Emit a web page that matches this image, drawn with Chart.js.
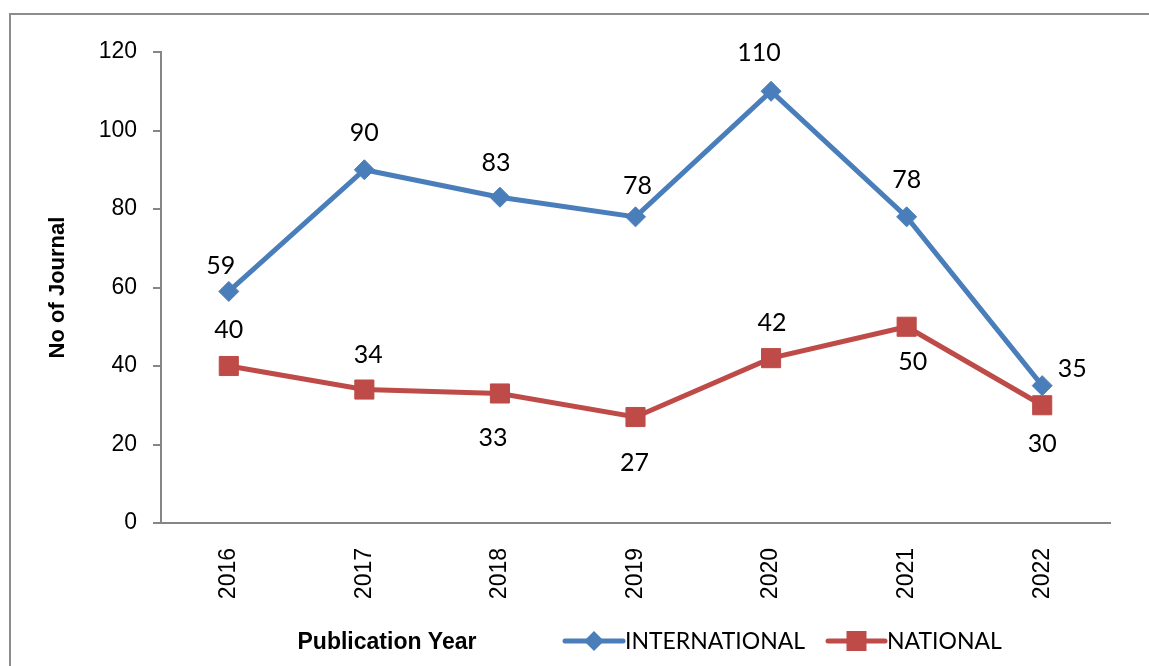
<!DOCTYPE html>
<html>
<head>
<meta charset="utf-8">
<script src="https://cdn.jsdelivr.net/npm/chart.js@4/dist/chart.umd.min.js"></script>
<style>
html,body{margin:0;padding:0;background:#fff;}
#wrap{width:1149px;height:666px;position:relative;}
</style>
</head>
<body>
<div id="wrap"><canvas id="c" width="1149" height="666"></canvas></div>
<script>
const years = ['2016','2017','2018','2019','2020','2021','2022'];
const international = [59, 90, 83, 78, 110, 78, 35];
const national = [40, 34, 33, 27, 42, 50, 30];
const yTicks = [0, 20, 40, 60, 80, 100, 120];
// data-label offsets (pixels) relative to each point
const intlLabelDx = [-8, 0, -4, 2, -12, 0, 30];
const intlLabelDy = [-25, -37, -34, -31, -38, -37, -17];
const natLabelDx = [0, 4, -7, -1, 1, 6, 0];
const natLabelDy = [-36, -35, 44, 46, -35, 35, 39];

const BLUE = '#4a7ebb';
const RED = '#be4b48';
const AXIS = '#868686';
const FONT = '"Liberation Sans", Arial, sans-serif';
const LFONT = 'Lato, "Open Sans", sans-serif';

const framePlugin = {
  id: 'frame',
  beforeDraw(chart) {
    const ctx = chart.ctx;
    ctx.save();
    ctx.fillStyle = '#fff';
    ctx.fillRect(0, 0, chart.width, chart.height);
    ctx.strokeStyle = '#8c8c8c';
    ctx.lineWidth = 2;
    ctx.beginPath();
    ctx.moveTo(10, chart.height);
    ctx.lineTo(10, 14);
    ctx.lineTo(chart.width, 14);
    ctx.stroke();
    ctx.restore();
  }
};

const labelPlugin = {
  id: 'dlabels',
  afterDatasetsDraw(chart) {
    const ctx = chart.ctx;
    ctx.save();
    ctx.font = '25px ' + LFONT;
    ctx.fillStyle = '#000';
    ctx.textAlign = 'center';
    ctx.textBaseline = 'middle';
    const dxs = [intlLabelDx, natLabelDx];
    const dys = [intlLabelDy, natLabelDy];
    chart.data.datasets.forEach((ds, di) => {
      const meta = chart.getDatasetMeta(di);
      meta.data.forEach((pt, i) => {
        ctx.fillText(String(ds.data[i]), pt.x + dxs[di][i], pt.y + dys[di][i]);
      });
    });
    ctx.restore();
  }
};

const legendPlugin = {
  id: 'customLegend',
  afterDraw(chart) {
    const ctx = chart.ctx;
    ctx.save();
    const y = 641;
    ctx.font = 'bold 23px ' + FONT;
    ctx.fillStyle = '#000';
    ctx.textAlign = 'center';
    ctx.textBaseline = 'middle';
    ctx.fillText('Publication Year', 387, y + 2);
    const items = [
      {label: chart.data.datasets[0].label, color: BLUE, style: 'diamond', x0: 565, x1: 623},
      {label: chart.data.datasets[1].label, color: RED, style: 'square', x0: 828, x1: 885}
    ];
    ctx.font = '23px ' + LFONT;
    items.forEach(it => {
      ctx.strokeStyle = it.color;
      ctx.lineWidth = 5;
      ctx.lineCap = 'round';
      ctx.beginPath();
      ctx.moveTo(it.x0, y);
      ctx.lineTo(it.x1, y);
      ctx.stroke();
      const cx = (it.x0 + it.x1) / 2;
      ctx.fillStyle = it.color;
      ctx.beginPath();
      if (it.style === 'diamond') {
        ctx.moveTo(cx, y - 10); ctx.lineTo(cx + 10, y); ctx.lineTo(cx, y + 10); ctx.lineTo(cx - 10, y);
        ctx.closePath();
        ctx.fill();
      } else {
        ctx.fillRect(cx - 10, y - 10, 20, 20);
      }
      ctx.fillStyle = '#000';
      ctx.textAlign = 'left';
      ctx.fillText(it.label, it.x1 + 2, y + 1);
    });
    ctx.restore();
  }
};

new Chart(document.getElementById('c'), {
  type: 'line',
  data: {
    labels: years,
    datasets: [
      {
        label: 'INTERNATIONAL',
        data: international,
        borderColor: BLUE,
        backgroundColor: BLUE,
        borderWidth: 5,
        pointStyle: 'rectRot',
        pointRadius: 10,
        pointHoverRadius: 10,
        pointBackgroundColor: BLUE,
        pointBorderColor: BLUE,
        pointBorderWidth: 1,
        tension: 0,
        fill: false
      },
      {
        label: 'NATIONAL',
        data: national,
        borderColor: RED,
        backgroundColor: RED,
        borderWidth: 5,
        pointStyle: 'rect',
        pointRadius: 13.5,
        pointHoverRadius: 13.5,
        pointBackgroundColor: RED,
        pointBorderColor: RED,
        pointBorderWidth: 1,
        tension: 0,
        fill: false
      }
    ]
  },
  options: {
    responsive: false,
    animation: false,
    devicePixelRatio: 1,
    layout: { padding: { top: 52, right: 39, left: 0, bottom: 0 } },
    plugins: {
      legend: { display: false },
      tooltip: { enabled: false },
      title: { display: false }
    },
    scales: {
      x: {
        type: 'category',
        offset: true,
        grid: { display: false, drawTicks: false },
        border: { display: true, color: AXIS, width: 2 },
        ticks: {
          color: '#000',
          font: { family: FONT, size: 23 },
          maxRotation: 90,
          minRotation: 90,
          padding: 25
        },
        afterFit(scale) { scale.height = 143; }
      },
      y: {
        min: 0,
        max: 120,
        afterBuildTicks(scale) { scale.ticks = yTicks.map(v => ({ value: v })); },
        grid: { display: true, drawOnChartArea: false, drawTicks: true, tickLength: 8, color: AXIS, lineWidth: 2 },
        border: { display: true, color: AXIS, width: 2 },
        ticks: {
          color: '#000',
          font: { family: FONT, size: 23 },
          padding: 16
        },
        title: {
          display: true,
          text: 'No of Journal',
          color: '#000',
          font: { family: FONT, size: 22, weight: 'bold' },
          padding: { top: 45, bottom: 0 }
        },
        afterFit(scale) { scale.width = 161; }
      }
    }
  },
  plugins: [framePlugin, labelPlugin, legendPlugin]
});
</script>
</body>
</html>
